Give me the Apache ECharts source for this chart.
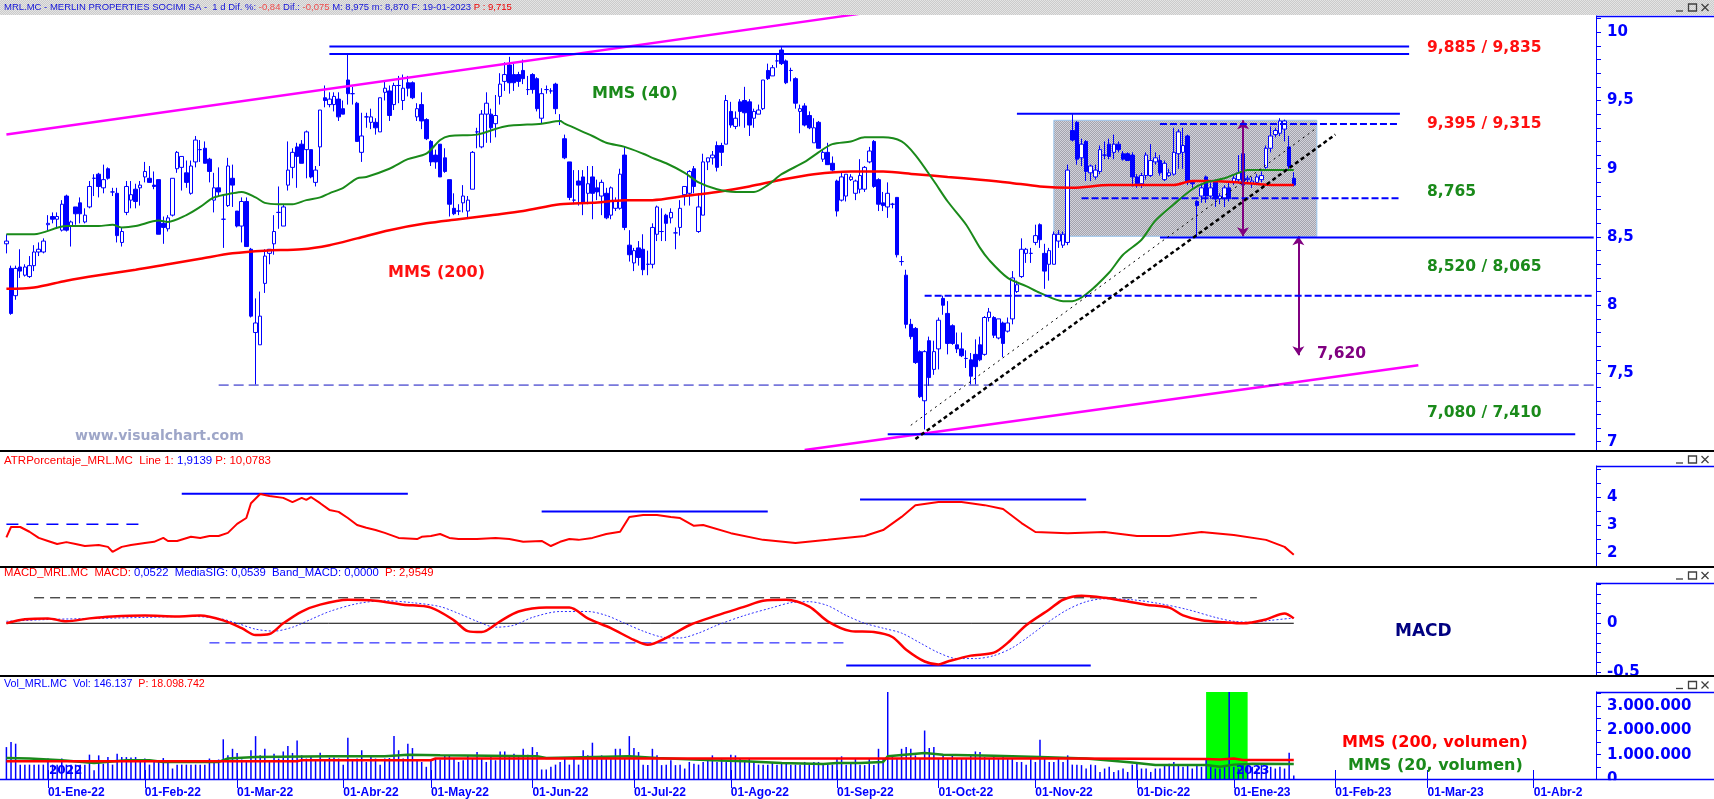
<!DOCTYPE html>
<html>
<head>
<meta charset="utf-8">
<script src="https://cdn.jsdelivr.net/npm/echarts@6/dist/echarts.min.js"></script>
<style>
html, body { margin: 0; padding: 0; background: #fff; }
#chart { width: 1714px; height: 799px; }
</style>
</head>
<body>
<div id="chart"></div>
<script>
// sesiones: dias laborables desde el 21-12-2021, sin festivos de la bolsa
const festivos = ['2022-04-15', '2022-04-18', '2022-12-26', '2023-04-07', '2023-04-10'];
const meses = ['Ene', 'Feb', 'Mar', 'Abr', 'May', 'Jun', 'Jul', 'Ago', 'Sep', 'Oct', 'Nov', 'Dic'];
const fechas = [];
for (let d = new Date(Date.UTC(2021, 11, 21)); fechas.length < 345; d.setUTCDate(d.getUTCDate() + 1)) {
  const s = d.toISOString().slice(0, 10);
  if (d.getUTCDay() === 0 || d.getUTCDay() === 6 || festivos.includes(s)) continue;
  fechas.push(s);
}

// velas [apertura, cierre, minimo, maximo]
const velas = [
  [8.45,8.47,8.38,8.52],[8.27,7.94,7.93,8.29],[8.07,8.27,8.04,8.29],[8.28,8.25,8.20,8.41],[8.22,8.28,8.21,8.30],
  [8.21,8.29,8.20,8.36],[8.29,8.39,8.25,8.44],[8.39,8.41,8.36,8.46],[8.39,8.47,8.38,8.49],[8.59,8.60,8.55,8.66],
  [8.65,8.63,8.60,8.68],[8.63,8.65,8.56,8.68],[8.55,8.74,8.54,8.77],[8.80,8.55,8.54,8.81],[8.58,8.61,8.43,8.62],
  [8.72,8.67,8.59,8.72],[8.75,8.67,8.60,8.79],[8.61,8.66,8.60,8.71],[8.72,8.87,8.71,8.91],[8.93,8.93,8.80,8.96],
  [8.96,8.87,8.79,8.97],[8.86,8.92,8.82,9.03],[9.00,8.93,8.92,9.01],[8.83,8.83,8.80,8.86],[8.82,8.51,8.46,8.86],
  [8.46,8.54,8.43,8.57],[8.68,8.87,8.66,8.91],[8.77,8.81,8.71,8.91],[8.85,8.76,8.71,8.89],[8.86,8.88,8.73,8.91],
  [8.94,8.98,8.90,9.05],[8.93,8.90,8.90,9.02],[8.88,8.87,8.85,8.98],[8.92,8.52,8.52,8.92],[8.60,8.57,8.45,8.65],
  [8.56,8.64,8.54,8.66],[8.66,8.93,8.65,8.93],[9.00,9.12,8.97,9.13],[9.01,9.09,8.84,9.09],[8.97,8.90,8.86,9.06],
  [8.82,9.02,8.81,9.06],[9.05,9.21,9.01,9.24],[9.14,9.14,9.05,9.21],[9.15,9.04,9.04,9.20],[9.07,8.98,8.90,9.08],
  [8.77,8.86,8.68,8.97],[8.86,8.83,8.80,9.01],[8.63,8.63,8.42,8.81],[8.73,9.02,8.72,9.08],[8.93,8.88,8.72,9.03],
  [8.69,8.58,8.57,8.69],[8.58,8.76,8.46,8.79],[8.76,8.43,8.43,8.79],[8.41,7.92,7.91,8.42],[7.80,7.87,7.42,8.05],
  [7.71,7.92,7.71,8.10],[8.16,8.36,8.09,8.41],[8.38,8.41,8.30,8.41],[8.45,8.54,8.37,8.66],[8.68,8.68,8.56,8.87],
  [8.58,8.72,8.58,8.74],[8.88,8.99,8.84,9.20],[9.01,9.12,8.93,9.15],[9.16,9.09,8.86,9.19],[9.18,9.04,9.04,9.21],
  [9.14,9.27,8.93,9.28],[9.14,8.94,8.93,9.14],[8.90,8.99,8.87,9.02],[9.16,9.43,9.02,9.43],[9.52,9.50,9.45,9.61],
  [9.47,9.51,9.45,9.56],[9.47,9.53,9.42,9.56],[9.51,9.38,9.35,9.56],[9.44,9.40,9.40,9.50],[9.65,9.55,9.47,9.84],
  [9.55,9.55,9.47,9.60],[9.48,9.20,9.20,9.49],[9.12,9.24,9.05,9.41],[9.38,9.38,9.30,9.41],[9.34,9.38,9.29,9.44],
  [9.34,9.30,9.25,9.37],[9.27,9.52,9.27,9.52],[9.56,9.59,9.50,9.65],[9.57,9.39,9.35,9.61],[9.47,9.61,9.43,9.63],
  [9.61,9.61,9.48,9.68],[9.50,9.59,9.43,9.69],[9.63,9.59,9.53,9.68],[9.63,9.52,9.51,9.64],[9.38,9.44,9.35,9.48],
  [9.47,9.35,9.29,9.56],[9.36,9.22,9.21,9.37],[9.20,9.05,9.02,9.21],[9.10,9.05,9.00,9.14],[9.18,8.94,8.94,9.18],
  [9.08,8.98,8.97,9.15],[8.92,8.74,8.65,8.92],[8.71,8.67,8.66,8.82],[8.69,8.69,8.66,8.74],[8.75,8.80,8.68,8.88],
  [8.69,8.77,8.64,8.80],[8.85,9.12,8.85,9.13],[9.27,9.27,9.15,9.30],[9.16,9.40,9.15,9.43],[9.40,9.48,9.19,9.56],
  [9.40,9.30,9.19,9.44],[9.33,9.39,9.23,9.54],[9.53,9.62,9.47,9.70],[9.64,9.69,9.57,9.78],[9.76,9.63,9.55,9.82],
  [9.69,9.63,9.57,9.77],[9.69,9.64,9.60,9.71],[9.72,9.66,9.62,9.80],[9.58,9.58,9.54,9.68],[9.69,9.58,9.55,9.70],
  [9.66,9.44,9.42,9.67],[9.37,9.55,9.33,9.59],[9.58,9.58,9.55,9.61],[9.57,9.57,9.55,9.59],[9.62,9.44,9.40,9.63],
  [9.35,9.35,9.32,9.40],[9.22,9.08,9.07,9.25],[9.05,8.79,8.77,9.05],[8.77,8.77,8.74,8.99],[8.91,8.88,8.73,8.99],
  [8.94,8.75,8.66,8.99],[8.82,8.89,8.74,9.02],[8.94,8.82,8.63,9.02],[8.86,8.83,8.77,8.92],[8.80,8.90,8.66,8.92],
  [8.82,8.64,8.63,8.86],[8.66,8.86,8.63,8.87],[8.71,8.76,8.69,8.79],[8.71,8.96,8.70,9.00],[9.10,8.57,8.55,9.16],
  [8.44,8.37,8.32,8.55],[8.31,8.40,8.25,8.42],[8.42,8.35,8.29,8.47],[8.41,8.26,8.22,8.52],[8.30,8.30,8.22,8.40],
  [8.30,8.57,8.27,8.60],[8.52,8.72,8.47,8.73],[8.54,8.54,8.47,8.71],[8.66,8.60,8.47,8.67],[8.64,8.68,8.60,8.71],
  [8.53,8.53,8.41,8.57],[8.57,8.71,8.51,8.77],[8.81,8.87,8.73,8.87],[8.82,8.98,8.73,8.99],[9.00,8.87,8.82,9.02],
  [8.54,8.72,8.53,8.82],[8.66,9.05,8.66,9.11],[9.05,9.08,8.99,9.08],[9.08,9.10,9.03,9.13],[9.17,9.01,8.98,9.20],
  [9.17,9.12,9.02,9.19],[9.18,9.50,9.18,9.54],[9.42,9.32,9.30,9.49],[9.31,9.37,9.29,9.42],[9.49,9.42,9.31,9.51],
  [9.50,9.41,9.30,9.60],[9.49,9.32,9.24,9.51],[9.37,9.42,9.30,9.44],[9.40,9.43,9.40,9.47],[9.44,9.65,9.43,9.65],
  [9.72,9.66,9.65,9.77],[9.68,9.74,9.68,9.76],[9.79,9.79,9.74,9.84],[9.87,9.77,9.76,9.89],[9.79,9.63,9.62,9.80],
  [9.72,9.72,9.64,9.74],[9.66,9.48,9.44,9.67],[9.42,9.44,9.26,9.47],[9.46,9.32,9.31,9.48],[9.39,9.30,9.29,9.42],
  [9.19,9.30,9.19,9.37],[9.34,9.15,9.15,9.35],[9.07,9.12,9.05,9.14],[9.12,9.03,9.03,9.19],[9.04,8.99,8.98,9.09],
  [8.91,8.69,8.65,8.92],[8.77,8.94,8.76,8.97],[8.80,8.96,8.76,8.96],[8.92,8.94,8.91,8.96],[8.82,8.91,8.77,8.92],
  [8.85,8.95,8.82,9.07],[8.85,9.01,8.83,9.02],[9.05,9.13,9.04,9.16],[9.20,8.87,8.86,9.21],[8.92,8.74,8.69,8.93],
  [8.75,8.73,8.69,8.83],[8.72,8.82,8.64,8.90],[8.74,8.74,8.71,8.75],[8.79,8.37,8.35,8.79],[8.32,8.32,8.29,8.36],
  [8.22,7.86,7.83,8.26],[7.86,7.77,7.75,7.90],[7.83,7.58,7.57,7.84],[7.66,7.33,7.32,7.67],[7.30,7.66,7.09,7.67],
  [7.74,7.47,7.41,7.77],[7.53,7.66,7.49,7.74],[7.68,7.89,7.53,7.91],[8.05,8.00,7.93,8.07],[7.94,7.72,7.64,8.03],
  [7.85,7.72,7.71,7.86],[7.71,7.68,7.65,7.80],[7.68,7.63,7.62,7.80],[7.61,7.61,7.54,7.67],[7.60,7.48,7.42,7.65],
  [7.64,7.55,7.42,7.75],[7.71,7.60,7.59,7.77],[7.64,7.91,7.63,7.92],[7.91,7.95,7.88,7.98],[7.91,7.78,7.76,7.92],
  [7.76,7.90,7.75,7.90],[7.87,7.72,7.62,7.88],[7.81,7.87,7.80,7.91],[7.90,8.20,7.86,8.25],[8.10,8.15,8.09,8.18],
  [8.21,8.41,8.20,8.49],[8.38,8.41,8.31,8.42],[8.38,8.38,8.31,8.42],[8.46,8.51,8.44,8.59],[8.59,8.48,8.42,8.60],
  [8.38,8.25,8.12,8.45],[8.30,8.40,8.18,8.42],[8.30,8.52,8.30,8.54],[8.47,8.52,8.42,8.55],[8.44,8.52,8.42,8.54],
  [8.46,8.99,8.44,9.03],[9.28,9.21,9.20,9.40],[9.34,9.07,9.03,9.35],[9.08,9.18,9.02,9.22],[9.20,8.98,8.91,9.21],
  [8.97,9.02,8.91,9.03],[8.94,8.99,8.92,9.03],[8.98,9.14,8.96,9.17],[9.10,9.10,9.07,9.20],[9.18,9.09,9.07,9.22],
  [9.12,9.18,9.07,9.25],[9.18,9.14,9.12,9.20],[9.11,9.07,9.06,9.13],[9.11,9.06,9.06,9.12],[9.10,8.94,8.87,9.12],
  [8.94,8.89,8.86,8.96],[8.89,8.95,8.86,8.97],[8.95,9.10,8.92,9.12],[8.95,9.06,8.94,9.18],[9.05,9.08,9.03,9.12],
  [9.06,8.97,8.95,9.10],[8.92,9.04,8.91,9.06],[8.95,8.97,8.94,9.00],[8.96,9.12,8.95,9.30],[9.11,9.27,9.00,9.29],
  [9.12,9.17,9.00,9.30],[9.24,8.90,8.88,9.25],[8.90,8.89,8.86,8.91],[8.76,8.73,8.50,8.77],[8.80,8.86,8.75,8.89],
  [8.94,8.80,8.75,8.95],[8.80,8.86,8.78,8.90],[8.91,8.78,8.72,8.92],[8.78,8.80,8.74,8.82],[8.78,8.86,8.72,8.88],
  [8.86,8.78,8.76,8.90],[8.90,8.93,8.88,8.95],[8.92,8.97,8.90,9.10],[9.11,8.88,8.86,9.13],[8.92,8.93,8.90,8.95],
  [8.89,8.91,8.86,8.94],[8.90,8.94,8.88,8.96],[8.92,8.95,8.90,8.98],[9.01,9.15,9.00,9.17],[9.15,9.24,9.12,9.31],
  [9.25,9.28,9.23,9.30],[9.26,9.35,9.24,9.37],[9.29,9.35,9.20,9.36],[9.16,9.02,9.00,9.24],[8.93,8.88,8.87,8.975]
];

// medias moviles del precio [sesion, valor]
const mms40 = [[0,8.52],[6,8.52],[13,8.58],[20,8.58],[23,8.59],[25,8.57],[28,8.58],[33,8.62],[35,8.61],[39,8.66],
  [42,8.72],[45,8.79],[49,8.82],[51,8.83],[54,8.79],[56,8.75],[59,8.74],[62,8.74],[65,8.77],[68,8.79],[70,8.82],
  [73,8.86],[76,8.93],[78,8.94],[83,9.0],[87,9.07],[91,9.11],[94,9.21],[96,9.24],[102,9.25],[108,9.31],[116,9.33],
  [120,9.35],[121,9.33],[127,9.24],[130,9.19],[134,9.16],[138,9.11],[140,9.08],[143,9.04],[147,8.97],[150,8.9],
  [154,8.85],[158,8.83],[162,8.83],[165,8.88],[168,8.96],[173,9.05],[176,9.12],[179,9.18],[183,9.2],[186,9.23],
  [190,9.23],[194,9.2],[197,9.1],[201,8.91],[204,8.76],[208,8.59],[211,8.42],[213,8.33],[217,8.2],[221,8.14],
  [224,8.09],[229,8.03],[231,8.03],[234,8.08],[239,8.24],[242,8.37],[246,8.48],[249,8.62],[253,8.74],[257,8.85],
  [260,8.9],[264,8.93],[267,8.97],[269,8.99],[273,8.99],[279,8.99]];
const mms200 = [[0,8.12],[6,8.13],[13,8.18],[20,8.22],[28,8.26],[35,8.30],[42,8.34],[49,8.38],[56,8.40],[64,8.41],
  [70,8.44],[76,8.49],[83,8.55],[91,8.60],[98,8.63],[105,8.66],[112,8.69],[120,8.74],[127,8.75],[134,8.77],
  [140,8.77],[147,8.80],[154,8.83],[161,8.87],[168,8.92],[175,8.96],[183,8.98],[190,8.98],[197,8.96],[204,8.94],
  [211,8.92],[217,8.90],[224,8.87],[231,8.86],[239,8.88],[246,8.88],[253,8.88],[257,8.91],[260,8.91],[267,8.90],
  [275,8.88],[279,8.88]];

// ATR en %
const atr = [[0,2.57],[1,2.94],[3,2.94],[5,2.77],[7,2.55],[9,2.44],[11,2.33],[13,2.40],[15,2.33],[17,2.26],[20,2.30],
  [22,2.23],[23,2.05],[25,2.23],[27,2.30],[30,2.37],[32,2.41],[34,2.55],[35,2.44],[37,2.44],[40,2.59],[42,2.55],
  [44,2.62],[46,2.62],[48,2.73],[50,3.05],[52,3.26],[53,3.79],[55,4.12],[57,4.05],[60,3.98],[62,3.83],[64,3.98],
  [65,3.91],[66,4.01],[68,3.79],[70,3.55],[72,3.48],[74,3.26],[76,3.01],[78,2.91],[80,2.83],[82,2.73],[85,2.55],
  [89,2.51],[90,2.59],[92,2.62],[94,2.69],[96,2.55],[98,2.51],[102,2.51],[106,2.55],[109,2.51],[112,2.41],
  [116,2.44],[118,2.26],[120,2.41],[122,2.51],[124,2.48],[127,2.55],[130,2.69],[133,2.77],[135,3.30],[138,3.37],
  [141,3.37],[144,3.30],[146,3.26],[149,2.98],[151,3.01],[157,2.72],[164,2.48],[171,2.37],[178,2.48],[186,2.62],
  [190,2.83],[194,3.30],[197,3.72],[202,3.83],[207,3.83],[212,3.72],[216,3.58],[220,3.08],[223,2.76],[230,2.72],
  [238,2.76],[245,2.62],[252,2.62],[259,2.76],[266,2.65],[273,2.48],[277,2.23],[279,1.95]];

// MACD y su senal
const macd = [[0,0.0],[4,0.04],[9,0.05],[13,0.02],[18,0.05],[23,0.07],[30,0.08],[37,0.07],[42,0.08],[47,0.03],
  [51,-0.05],[54,-0.12],[57,-0.11],[60,0.0],[64,0.12],[68,0.19],[74,0.24],[80,0.23],[86,0.19],[92,0.16],[97,0.03],
  [100,-0.08],[103,-0.09],[107,0.02],[111,0.12],[117,0.16],[122,0.16],[126,0.05],[131,-0.05],[136,-0.17],
  [139,-0.22],[143,-0.15],[148,-0.02],[154,0.08],[160,0.17],[164,0.23],[169,0.24],[174,0.17],[178,0.02],
  [183,-0.08],[188,-0.09],[192,-0.14],[195,-0.27],[199,-0.39],[202,-0.42],[204,-0.39],[209,-0.33],[214,-0.30],
  [217,-0.2],[221,-0.02],[226,0.14],[229,0.24],[233,0.28],[238,0.26],[242,0.23],[247,0.19],[252,0.16],[255,0.08],
  [259,0.03],[264,0.01],[268,0.0],[273,0.04],[277,0.1],[279,0.05]];
const senal = [[0,0.02],[10,0.04],[20,0.05],[30,0.06],[40,0.07],[46,0.05],[50,0.0],[54,-0.06],[58,-0.08],[62,-0.04],
  [66,0.04],[70,0.12],[76,0.2],[82,0.23],[88,0.21],[94,0.17],[98,0.10],[102,0.02],[106,-0.04],[110,-0.02],
  [114,0.06],[120,0.12],[126,0.12],[130,0.08],[134,0.0],[138,-0.08],[142,-0.14],[146,-0.15],[150,-0.10],
  [154,-0.02],[160,0.08],[166,0.16],[170,0.21],[174,0.22],[178,0.18],[182,0.08],[186,0.0],[190,-0.05],
  [194,-0.10],[198,-0.2],[202,-0.3],[206,-0.36],[210,-0.36],[214,-0.33],[218,-0.25],[222,-0.12],[226,0.02],
  [230,0.14],[234,0.22],[238,0.25],[244,0.24],[250,0.2],[256,0.14],[262,0.06],[266,0.02],[270,0.01],[274,0.03],
  [279,0.054]];

// volumen en millones de titulos
const volumen = [
  1.31,1.52,1.45,0.59,0.59,0.59,0.59,0.59,0.59,0.84,0.59,0.59,0.84,0.59,0.59,0.59,0.59,0.59,1.00,0.36,
  0.97,0.63,0.90,0.59,1.04,0.90,0.90,0.88,0.90,0.70,0.84,0.59,0.70,0.77,0.86,0.70,0.43,0.59,0.59,0.59,
  0.59,0.59,0.59,0.59,0.84,0.70,0.80,1.63,0.97,1.24,1.07,0.80,0.77,1.18,1.76,0.97,1.24,0.77,1.04,0.84,
  1.13,1.35,1.07,1.58,0.97,0.84,0.90,0.80,1.08,0.80,0.88,0.88,0.84,0.59,1.69,0.80,0.84,1.18,0.70,0.97,
  0.84,0.59,0.84,0.86,1.76,1.18,0.84,1.45,1.27,0.80,0.70,0.50,0.77,0.84,0.80,0.97,0.97,0.84,0.70,0.77,
  0.97,0.84,1.11,0.84,0.70,0.97,0.77,1.13,1.13,0.97,1.04,0.97,1.24,1.00,1.31,1.11,0.39,0.39,0.50,0.59,
  0.70,0.84,0.59,0.90,0.59,1.18,0.97,1.49,0.80,0.97,0.84,0.84,1.24,1.24,0.84,1.76,1.27,1.11,0.59,0.57,
  1.24,0.97,0.57,0.59,0.77,0.57,0.59,0.43,0.70,0.63,0.59,0.70,0.84,0.97,0.70,0.84,0.70,1.00,0.97,0.84,
  0.77,0.84,0.70,0.59,0.59,0.59,0.70,0.59,0.70,0.70,0.59,0.59,0.59,0.70,0.59,0.70,0.70,0.59,0.59,0.59,
  0.84,0.93,0.59,0.70,0.84,0.59,
  0.57,0.84,0.57,1.24,0.84,3.65,0.97,0.84,1.24,1.31,1.24,0.97,0.84,1.99,1.27,1.31,0.84,0.97,0.84,0.97,
  0.84,0.86,0.84,0.97,1.13,1.11,0.90,0.84,0.97,0.84,0.97,0.84,0.84,0.70,0.70,0.59,0.84,0.70,1.61,0.84,
  0.70,0.70,0.84,0.70,0.97,0.59,0.59,0.57,0.43,0.59,0.57,0.29,0.43,0.50,0.29,0.36,0.43,0.29,0.59,0.70,
  0.43,0.43,0.29,0.43,0.43,0.57,0.63,0.70,0.59,0.50,0.57,0.43,0.57,0.50,0.84,0.50,0.43,0.43,0.50,3.65,
  0.50,0.43,0.57,0.57,0.50,0.43,0.57,0.43,0.50,0.43,0.50,0.43,1.08,0.146
];
const volMms200 = [[0,0.73],[63,0.73],[64,0.77],[92,0.77],[93,0.84],[230,0.84],[260,0.82],[263,0.80],[266,0.84],
  [268,0.78],[279,0.78]];
const volMms20 = [[0,0.86],[5,0.84],[12,0.77],[19,0.66],[26,0.77],[31,0.77],[34,0.70],[46,0.70],[48,0.84],
  [54,0.90],[70,0.93],[82,0.93],[87,1.0],[94,0.97],[115,0.93],[117,0.86],[135,0.93],[141,0.86],[153,0.77],
  [160,0.73],[168,0.66],[177,0.62],[180,0.66],[185,0.66],[190,0.70],[191,0.93],[199,1.07],[203,1.0],[214,0.95],
  [224,0.90],[234,0.84],[244,0.68],[249,0.57],[260,0.57],[263,0.50],[266,0.59],[270,0.63],[279,0.62]];

// lineas dibujadas sobre el grafico [sesion, valor]
const canalSup = [[0,9.25],[186,10.14]];
const canalInf = [[173,6.94],[306,7.56]];
const maximo1 = [[70,9.895],[304,9.895]];
const maximo2 = [[70,9.84],[304,9.84]];
const res9395 = [[219,9.402],[302,9.402]];
const res9315 = [[250,9.327],[302,9.327]];
const sop8765 = [[233,8.783],[302,8.783]];
const sop8520 = [[250,8.497],[344,8.497]];
const sop8065 = [[199,8.07],[344,8.07]];
const sop7410 = [[46,7.415],[344,7.415]];
const sop7080 = [[191,7.055],[340,7.055]];
const directriz = [[197,7.02],[288,9.25]];
const directrizFina = [[196,7.12],[284,9.30]];
const caja = [[227,9.355],[284,8.505]];
const flecha1 = [[268,9.355],[268,8.505]];
const flecha2 = [[280,8.505],[280,7.634]];
const atrNiveles = [[[0,3.04],[29,3.04],'dashed'],[[38,4.13],[87,4.13],'solid'],[[116,3.49],[165,3.49],'solid'],[[185,3.92],[234,3.92],'solid']];
const macdNiveles = [[[6,0.26],[271,0.26],'dashed','#000000'],[[44,-0.2],[182,-0.2],'dashed','#0000ff'],
  [[182,-0.43],[235,-0.43],'solid','#0000ff'],[[0,0],[279,0],'solid','#000000']];
const zonaVolumen = [[260, 0], [269, 3.6]];

// etiquetas de los ejes
const etqPrecio = [7, 7.5, 8, 8.5, 9, 9.5, 10];
const etqAtr = [2, 3, 4];
const etqMacd = [-0.5, 0];
const etqVol = [0, 1, 2, 3];

const AZUL = '#0000ff';
const FONT = '"DejaVu Sans", sans-serif';
const coma = v => String(v).replace('.', ',');
const miles = v => String(Math.round(v * 1e6)).replace(/\B(?=(\d{3})+(?!\d))/g, '.');
const pasos = (a, b, s) => { const r = []; for (let k = 0; a + k * s <= b + 1e-9; k++) r.push(+(a + k * s).toFixed(3)); return r; };
const inicioMes = i => i > 0 && fechas[i].slice(5, 7) !== fechas[i - 1].slice(5, 7);

function dither(c1, c2) {
  const cv = document.createElement('canvas');
  cv.width = 2; cv.height = 2;
  const g = cv.getContext('2d');
  g.fillStyle = c1; g.fillRect(0, 0, 2, 2);
  g.fillStyle = c2; g.fillRect(0, 0, 1, 1); g.fillRect(1, 1, 1, 1);
  return { image: cv, repeat: 'repeat' };
}

const grids = [
  { left: 4.1, right: 118, top: 16, height: 435 },
  { left: 4.1, right: 118, top: 466, height: 101 },
  { left: 4.1, right: 118, top: 583, height: 93 },
  { left: 4.1, right: 118, top: 692, height: 87.5 }
];

function ejeX(i) {
  const ultimo = i === 3;
  return {
    type: 'category', gridIndex: i, data: fechas, boundaryGap: true, position: 'bottom',
    axisLine: { show: false },
    axisTick: ultimo ? { show: true, alignWithLabel: true, length: 9, interval: (idx) => inicioMes(idx), lineStyle: { color: AZUL } } : { show: false },
    axisLabel: ultimo ? {
      show: true, interval: (idx) => inicioMes(idx), align: 'left', margin: 8,
      color: AZUL, fontWeight: 'bold', fontSize: 12, fontFamily: '"Liberation Sans", sans-serif',
      formatter: v => '01-' + meses[+v.slice(5, 7) - 1] + '-' + v.slice(2, 4)
    } : { show: false },
    splitLine: { show: false }
  };
}
// marcas de mes que suben dentro del panel de volumen
const marcasInternas = {
  type: 'category', gridIndex: 3, data: fechas, boundaryGap: true, position: 'bottom', offset: 0,
  axisLine: { show: false }, axisLabel: { show: false }, splitLine: { show: false },
  axisTick: { show: true, inside: true, alignWithLabel: true, length: 9, interval: (idx) => inicioMes(idx), lineStyle: { color: AZUL } }
};

function ejeY(i, min, max, ticks, labels, fmt) {
  return {
    type: 'value', gridIndex: i, position: 'right', min, max, scale: true,
    axisLine: { show: true, lineStyle: { color: AZUL, width: 1 } },
    axisTick: { show: true, length: 5, customValues: ticks, lineStyle: { color: AZUL } },
    axisLabel: { show: true, customValues: labels, formatter: fmt, margin: 11, color: AZUL, fontWeight: 'bold', fontSize: 15, fontFamily: FONT },
    splitLine: { show: false }
  };
}

function linea(g, pts, color, width, type, z, extra) {
  return Object.assign({
    type: 'line', xAxisIndex: g, yAxisIndex: g, data: pts, symbol: 'none', silent: true, z: z || 5,
    lineStyle: { color, width, type: type || 'solid' }
  }, extra || {});
}

const series = [
  {
    type: 'candlestick', xAxisIndex: 0, yAxisIndex: 0, data: velas, barWidth: 4, z: 3,
    itemStyle: { color: '#ffffff', color0: AZUL, borderColor: AZUL, borderColor0: AZUL, borderWidth: 1 }
  },
  {
    type: 'line', xAxisIndex: 0, yAxisIndex: 0, data: [], z: 1, silent: true,
    markArea: {
      silent: true,
      itemStyle: { color: dither('#a4a4ae', '#d2d2da'), borderColor: '#9cc6ee', borderWidth: 1 },
      data: [[{ coord: caja[0] }, { coord: caja[1] }]]
    }
  },
  linea(0, mms200, '#ff0000', 2.5, 'solid', 4, { smooth: 0.3 }),
  linea(0, mms40, '#1a8a1a', 2, 'solid', 4, { smooth: 0.3 }),
  linea(0, canalSup, '#ff00ff', 2.5),
  linea(0, canalInf, '#ff00ff', 2.5),
  linea(0, maximo1, AZUL, 2),
  linea(0, maximo2, AZUL, 2),
  linea(0, res9395, AZUL, 2),
  linea(0, res9315, AZUL, 2, [7, 3]),
  linea(0, sop8765, AZUL, 2, [7, 3]),
  linea(0, sop8520, AZUL, 2),
  linea(0, sop8065, AZUL, 2, [7, 3]),
  linea(0, sop7410, '#1010c0', 1, [10, 5]),
  linea(0, sop7080, AZUL, 2),
  linea(0, directriz, '#000000', 2.5, [4, 3]),
  linea(0, directrizFina, '#000000', 1, [2, 4]),
  {
    type: 'line', xAxisIndex: 0, yAxisIndex: 0, data: [], z: 6, silent: true,
    markLine: {
      silent: true, symbol: ['arrow', 'arrow'], symbolSize: [9, 9], label: { show: false },
      lineStyle: { color: '#800080', width: 2, type: 'solid' },
      data: [[{ coord: flecha1[0] }, { coord: flecha1[1] }], [{ coord: flecha2[0] }, { coord: flecha2[1] }]]
    }
  },
  linea(1, atr, '#ff0000', 2, 'solid', 4),
  ...atrNiveles.map(n => linea(1, [n[0], n[1]], AZUL, n[2] === 'dashed' ? 1.5 : 2, n[2] === 'dashed' ? [12, 8] : 'solid', 3)),
  ...macdNiveles.map(n => linea(2, [n[0], n[1]], n[3], n[3] === '#000000' ? 1 : (n[2] === 'dashed' ? 1 : 2), n[2] === 'dashed' ? [10, 6] : 'solid', 2)),
  linea(2, senal, '#3030ff', 1, [2, 2], 4, { smooth: 0.3 }),
  linea(2, macd, '#ff0000', 2.5, 'solid', 5, { smooth: 0.3 }),
  {
    type: 'line', xAxisIndex: 3, yAxisIndex: 3, data: [], z: 1, silent: true,
    markArea: {
      silent: true, itemStyle: { color: '#00ff00' },
      data: [[{ coord: zonaVolumen[0] }, { coord: zonaVolumen[1] }]]
    }
  },
  {
    type: 'bar', xAxisIndex: 3, yAxisIndex: 3, data: volumen, barWidth: 1.5, z: 3,
    itemStyle: { color: AZUL }
  },
  linea(3, volMms200, '#ff0000', 2.5, 'solid', 5),
  linea(3, volMms20, '#1a8a1a', 2.5, 'solid', 4)
];

const cab = (y, text, rich) => ({ type: 'text', x: 4, y, z: 50, style: { text, rich, verticalAlign: 'middle', align: 'left' } });
const rf = (c, s) => ({ fill: c, fontSize: s, fontFamily: '"Liberation Sans", sans-serif' });
const txt = (x, y, text, fill, size) => ({ type: 'text', x, y, z: 50, silent: true,
  style: { text, fill, font: 'bold ' + size + 'px ' + FONT, verticalAlign: 'middle', align: 'left' } });
const ln = (x1, y1, x2, y2, stroke, w) => ({ type: 'line', z: 60, silent: true, shape: { x1, y1, x2, y2 }, style: { stroke, lineWidth: w } });
function iconos(y) {
  return [
    ln(1676, y + 3.5, 1683, y + 3.5, '#404040', 1.3),
    { type: 'rect', z: 60, shape: { x: 1688.5, y: y - 3.5, width: 8, height: 7 }, style: { fill: 'none', stroke: '#404040', lineWidth: 1.3 } },
    ln(1701.5, y - 3.5, 1708.5, y + 3.5, '#404040', 1.3),
    ln(1708.5, y - 3.5, 1701.5, y + 3.5, '#404040', 1.3)
  ];
}

const graphic = [
  { type: 'rect', z: 40, shape: { x: 0, y: 0, width: 1714, height: 15 }, style: { fill: dither('#cbcbcb', '#e4e4e4') } },
  cab(7.5, '{b|MRL.MC - MERLIN PROPERTIES SOCIMI SA -  1 d Dif. %: }{s|-0,84}{b| Dif.: }{s|-0,075}{b| M: 8,975 m: 8,870 F: 19-01-2023 }{r|P : 9,715}',
    { b: rf('#1414d8', 9.5), s: rf('#ee4c4c', 9.5), r: rf('#ee0000', 9.5) }),
  // separadores de paneles
  ln(0, 451, 1714, 451, '#000000', 2),
  ln(0, 567, 1714, 567, '#000000', 2),
  ln(0, 676, 1714, 676, '#000000', 2),
  ln(1596, 16.5, 1714, 16.5, AZUL, 1.5),
  ln(1596, 466.5, 1714, 466.5, AZUL, 1.5),
  ln(1596, 583.5, 1714, 583.5, AZUL, 1.5),
  ln(1596, 692.5, 1714, 692.5, AZUL, 1.5),
  { type: 'rect', z: 55, shape: { x: 1597, y: 677, width: 117, height: 15 }, style: { fill: '#ffffff' } },
  { type: 'rect', z: 55, shape: { x: 1583, y: 780.3, width: 131, height: 19 }, style: { fill: '#ffffff' } },
  ln(0, 779.5, 1714, 779.5, AZUL, 1.5),
  ...iconos(7.5), ...iconos(459.5), ...iconos(575.5), ...iconos(685),
  cab(461, '{r|ATRPorcentaje_MRL.MC  Line 1: }{b|1,9139}{r| P: 10,0783}', { r: rf('#ff0000', 11.5), b: rf('#0000ff', 11.5) }),
  cab(573, '{r|MACD_MRL.MC  MACD: }{b|0,0522  MediaSIG: 0,0539  Band_MACD: 0,0000}{r|  P: 2,9549}', { r: rf('#ff0000', 11.3), b: rf('#0000ff', 11.3) }),
  cab(684, '{b|Vol_MRL.MC  Vol: 146.137}{r|  P: 18.098.742}', { r: rf('#ff0000', 10.7), b: rf('#0000ff', 10.7) }),
  // rotulos
  txt(592, 94, 'MMS (40)', '#1a8a1a', 16),
  txt(388, 273, 'MMS (200)', '#ff1010', 16),
  txt(1427, 48, '9,885 / 9,835', '#ff1010', 15.5),
  txt(1427, 124, '9,395 / 9,315', '#ff1010', 15.5),
  txt(1427, 192, '8,765', '#1a8a1a', 15.5),
  txt(1427, 267, '8,520 / 8,065', '#1a8a1a', 15.5),
  txt(1317, 354, '7,620', '#800080', 15.5),
  txt(1427, 413, '7,080 / 7,410', '#1a8a1a', 15.5),
  txt(75, 436, 'www.visualchart.com', '#9ea6c8', 14),
  txt(1395, 632, 'MACD', '#000080', 17),
  txt(1342, 743, 'MMS (200, volumen)', '#ff0000', 16),
  txt(1348, 766, 'MMS (20, volumen)', '#1a8a1a', 16),
  txt(49, 771, '2022', AZUL, 12),
  txt(1236, 771, '2023', AZUL, 12)
];

const chart = echarts.init(document.getElementById('chart'));
chart.setOption({
  animation: false,
  backgroundColor: '#ffffff',
  grid: grids,
  xAxis: [0, 1, 2, 3].map(ejeX).concat([marcasInternas]),
  yAxis: [
    ejeY(0, 6.932, 10.119, pasos(7, 10.1, 0.1), etqPrecio, coma),
    ejeY(1, 1.511, 5.118, pasos(1.5, 5, 0.5), etqAtr, coma),
    ejeY(2, -0.538, 0.411, pasos(-0.5, 0.4, 0.1), etqMacd, coma),
    ejeY(3, 0, 3.571, pasos(0.5, 3.5, 0.5), etqVol, miles)
  ],
  series,
  graphic
});
</script>
</body>
</html>
